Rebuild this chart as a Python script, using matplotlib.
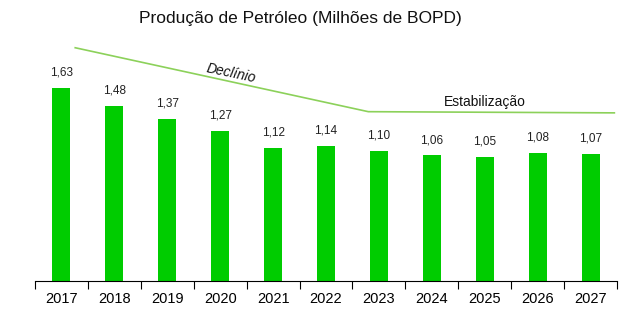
import matplotlib.pyplot as plt
import numpy as np

years = ["2017", "2018", "2019", "2020", "2021", "2022", "2023", "2024", "2025", "2026", "2027"]
production = [1.63, 1.48, 1.37, 1.27, 1.12, 1.14, 1.10, 1.06, 1.05, 1.08, 1.07]

# trend line (index, value)
trend_x = [0.26, 5.8, 10.45]
trend_y = [1.97, 1.43, 1.42]

plt.rcParams['font.family'] = ['Liberation Sans', 'DejaVu Sans']

fig = plt.figure(figsize=(6.23, 3.33), dpi=100)
ax = fig.add_axes([35 / 623, 52 / 333, 582 / 623, 251 / 333])

x = np.arange(len(years))
bars = ax.bar(x, production, width=0.34, color="#00cc00")
for rect, v in zip(bars, production):
    ax.text(rect.get_x() + rect.get_width() / 2., v + 0.08, ('%.2f' % v).replace('.', ','),
            ha='center', va='bottom', fontsize=8.5, color="#222222")

ax.plot(trend_x, trend_y, color="#8cd15a", lw=1.2, clip_on=False)
ax.text(3.2, 1.75, "Declínio", rotation=-12, ha='center', va='center',
        fontsize=10, style='italic', color="#111111")
ax.text(8.0, 1.51, "Estabilização", ha='center', va='center',
        fontsize=10, fontweight='medium', color="#111111")

ax.set_xlim(-0.5, 10.5)
ax.set_ylim(0, 251 / 193 * 1.63)
ax.set_xticks(np.arange(-0.5, 11, 1))
ax.set_xticklabels([])
ax.set_xticks(x, minor=True)
ax.set_xticklabels(years, minor=True, fontsize=10.5)
ax.tick_params(axis='x', which='major', length=6, direction='out')
ax.tick_params(axis='x', which='minor', length=0, pad=8)
ax.set_yticks([])
for s in ["top", "right", "left"]:
    ax.spines[s].set_visible(False)

fig.text(300 / 623, 1 - 18 / 333, "Produção de Petróleo (Milhões de BOPD)",
         ha='center', va='center', fontsize=12.5, color="#111111")

fig.savefig("out.png", dpi=100)
